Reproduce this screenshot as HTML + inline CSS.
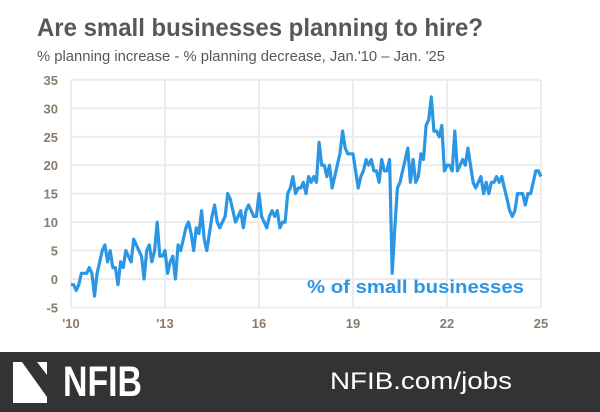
<!DOCTYPE html>
<html><head><meta charset="utf-8"><style>
html,body{margin:0;padding:0;background:#fff;}
svg{display:block;font-family:"Liberation Sans",sans-serif;}
</style></head><body>
<svg id="s" width="600" height="412" viewBox="0 0 600 412" xmlns="http://www.w3.org/2000/svg">
<rect width="600" height="412" fill="#fff"/>
<text x="37" y="36" font-size="25" font-weight="bold" fill="#58585a" textLength="446" lengthAdjust="spacingAndGlyphs">Are small businesses planning to hire?</text>
<text x="37" y="61" font-size="14.5" fill="#58585a" textLength="408" lengthAdjust="spacingAndGlyphs">% planning increase - % planning decrease,  Jan.'10 – Jan. '25</text>
<g id="grid" stroke="#ececec" stroke-width="2"></g>
<g id="lab" font-size="13" font-weight="bold" fill="#8a7b6c"></g>
<polyline id="line" fill="none" stroke="#2b96e3" stroke-width="3.2" stroke-linejoin="round"/>
<text x="307" y="293" font-size="18.5" font-weight="bold" fill="#2b96e3" textLength="217" lengthAdjust="spacingAndGlyphs">% of small businesses</text>
<rect x="0" y="352" width="600" height="60" fill="#333333"/>
<polygon points="13,362 22,362 47,397 47,403 13,403" fill="#fff"/>
<polygon points="37,362 47,362 47,375" fill="#fff"/>
<text x="63" y="396" font-size="43" font-weight="bold" fill="#fff" textLength="79" lengthAdjust="spacingAndGlyphs">NFIB</text>
<text x="330" y="389" font-size="24" fill="#fff" textLength="182" lengthAdjust="spacingAndGlyphs">NFIB.com/jobs</text>
</svg>
<script>
var d=[-1,-1,-2,-1,1,1,1,2,1,-3,1,3,
5,6,3,5,2,2,-1,3,2,5,4,3,
7,6,5,4,0,5,6,3,5,10,4,4,
5,1,3,4,0,6,5,7,9,10,8,5,
9,8,12,7,5,8,11,13,10,9,10,11,
15,14,12,10,11,12,9,12,13,12,11,11,
15,11,10,9,11,12,11,12,9,10,10,15,
16,18,15,16,16,17,15,18,17,18,17,24,
20,20,18,20,16,18,20,22,26,23,22,22,
22,19,16,18,19,21,20,21,19,19,17,21,
19,19,21,1,9,16,17,19,21,23,17,21,
17,18,22,21,27,28,32,26,26,25,27,19,
20,20,19,26,19,20,21,20,23,20,17,16,
17,18,15,17,15,17,17,18,17,18,16,14,
12,11,12,15,15,15,13,15,15,17,19,19,18];
function X(i){return 71+i*470/180;}function Y(v){return 279-v*5.69;}
var ns="http://www.w3.org/2000/svg",g=document.getElementById('grid'),l=document.getElementById('lab');
function el(p,t,a,tx){var e=document.createElementNS(ns,t);for(var k in a)e.setAttribute(k,a[k]);if(tx)e.textContent=tx;p.appendChild(e);}
for(var v=-5;v<=35;v+=5){el(g,'line',{x1:71,x2:541,y1:Y(v),y2:Y(v)});el(l,'text',{x:58,y:Y(v)+5,'text-anchor':'end'},String(v));}
var yl=["'10","'13","16","19","22","25"];
for(var k=0;k<6;k++){var x=71+k*94;el(g,'line',{x1:x,x2:x,y1:Y(35),y2:Y(-5)});el(l,'text',{x:x,y:328,'text-anchor':'middle'},yl[k]);}
var p=[];for(var i=0;i<d.length;i++)p.push(X(i).toFixed(1)+','+Y(d[i]).toFixed(1));
document.getElementById('line').setAttribute('points',p.join(' '));
</script>
</body></html>
